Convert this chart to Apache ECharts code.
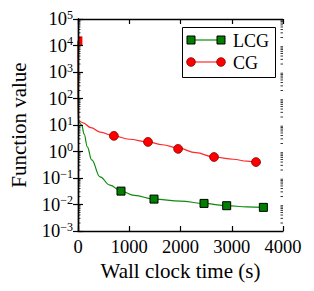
<!DOCTYPE html>
<html><head><meta charset="utf-8">
<script src="https://cdn.jsdelivr.net/npm/echarts@6/dist/echarts.min.js"></script>
<style>html,body{margin:0;padding:0;background:#fff}#c{width:314px;height:291px}</style>
</head><body><div id="c"></div>
<script>
// ---- data ----
const seriesNames = ['LCG', 'CG'];
const xTicks = [0, 1000, 2000, 3000, 4000];
const yTickExponents = [-3, -2, -1, 0, 1, 2, 3, 4, 5];
// smooth curves (wall clock seconds, function value)
const lcgCurve = [[0,15000],[2,14],[72,10],[120,4.5],[182,1.5],[267,0.48],[429,0.11],[624,0.054],[839,0.032],[1100,0.022],[1483,0.016],[2000,0.0135],[2459,0.011],[2901,0.009],[3300,0.0082],[3617,0.0078]];
const cgCurve = [[0,15000],[2,15],[100,12],[250,8],[430,5.4],[700,3.9],[1000,2.9],[1366,2.3],[1650,1.8],[1951,1.36],[2300,0.9],[2654,0.62],[3030,0.51],[3300,0.43],[3473,0.40],[3570,0.38]];
// marker points
const lcgMarkers = [[0,15000],[839,0.032],[1483,0.016],[2459,0.011],[2901,0.009],[3617,0.0078]];
const cgMarkers = [[0,15000],[700,3.9],[1366,2.3],[1951,1.36],[2654,0.62],[3473,0.40]];

// log minor tick positions (axis decoration)
const minorTickValues = [];
for (let e = -3; e < 5; e++) for (let m = 2; m <= 9; m++) minorTickValues.push(m * Math.pow(10, e));

const FONT = 'Liberation Serif';
const chart = echarts.init(document.getElementById('c'), null, {renderer: 'svg'});

const supLabel = v => {
  const e = Math.round(Math.log10(v));
  return '{b|10}{s|' + (e < 0 ? '\u2212' + (-e) : e) + '}';
};
const labelRich = {
  b: {fontFamily: FONT, fontSize: 18.5, color: '#000'},
  s: {fontFamily: FONT, fontSize: 12, color: '#000', padding: [0, 0, 9, 0]}
};

const axisLineStyle = {lineStyle: {color: '#000', width: 1.4}};
const tickStyle = {inside: true, length: 5, lineStyle: {color: '#000', width: 1.2}};

const GREEN = '#007f00', GREEN_LINE = '#0c8a0c', RED = '#ff0000', RED_LINE = '#ff2a2a';

function markerSeries(name, data, kind, z) {
  return {
    name: name, type: 'custom', data: data, clip: true, z: z,
    renderItem: function (params, api) {
      const p = api.coord([api.value(0), api.value(1)]);
      const cs = params.coordSys;
      const half = kind === 'rect' ? 4 : 4.4;
      const box = {x: p[0] - half, y: p[1] - half, width: half * 2, height: half * 2};
      const fill = kind === 'rect' ? GREEN : RED;
      const stroke = kind === 'rect' ? '#000' : '#800000';
      if (box.x < cs.x) {
        const c = echarts.graphic.clipRectByRect(box, cs);
        return c ? {type: 'rect', shape: c, style: {fill: fill}} : null;
      }
      if (kind === 'rect') {
        return {type: 'rect', shape: box, style: {fill: fill, stroke: stroke, lineWidth: 1}};
      }
      return {type: 'circle', shape: {cx: p[0], cy: p[1], r: half},
              style: {fill: fill, stroke: stroke, lineWidth: 0.8}};
    }
  };
}

chart.setOption({
  animation: false,
  grid: {left: 78, right: 31, top: 19, bottom: 60},
  xAxis: [{
    type: 'value', min: xTicks[0], max: xTicks[xTicks.length - 1], interval: 1000, z: 20,
    axisLine: axisLineStyle, axisTick: tickStyle, splitLine: {show: false},
    axisLabel: {fontFamily: FONT, fontSize: 18.5, color: '#000', margin: 6, formatter: v => String(v)},
    name: 'Wall clock time (s)', nameLocation: 'middle', nameGap: 27,
    nameTextStyle: {fontFamily: FONT, fontSize: 21, color: '#000'}
  }, {
    type: 'value', position: 'top', min: xTicks[0], max: xTicks[xTicks.length - 1], interval: 1000, z: 20,
    axisLine: axisLineStyle, axisTick: tickStyle, splitLine: {show: false}, axisLabel: {show: false}
  }],
  yAxis: [{
    type: 'log', logBase: 10, min: Math.pow(10, yTickExponents[0]), max: Math.pow(10, yTickExponents[yTickExponents.length - 1]), interval: 1, z: 20,
    axisLine: axisLineStyle, axisTick: tickStyle, splitLine: {show: false},
    axisLabel: {formatter: supLabel, rich: labelRich, margin: 5},
    name: 'Function value', nameLocation: 'middle', nameGap: 49, nameRotate: 90,
    nameTextStyle: {fontFamily: FONT, fontSize: 21, color: '#000'}
  }, {
    type: 'log', logBase: 10, position: 'right', min: Math.pow(10, yTickExponents[0]), max: Math.pow(10, yTickExponents[yTickExponents.length - 1]), interval: 1, z: 20,
    axisLine: axisLineStyle, axisTick: tickStyle, splitLine: {show: false}, axisLabel: {show: false}
  }],
  series: [
    {name: seriesNames[0], type: 'line', data: lcgCurve, showSymbol: false, smooth: 0.4, smoothMonotone: 'x',
     lineStyle: {color: GREEN_LINE, width: 1.2}, z: 2},
    markerSeries(seriesNames[0], lcgMarkers, 'rect', 3),
    {name: seriesNames[1], type: 'line', data: cgCurve, showSymbol: false, smooth: 0.4, smoothMonotone: 'x',
     lineStyle: {color: RED_LINE, width: 1.2}, z: 4},
    markerSeries(seriesNames[1], cgMarkers, 'circle', 5),
    {type: 'custom', data: minorTickValues.map(v => [0, v]), silent: true, clip: false, z: 6,
     renderItem: function (params, api) {
       const v = api.value(1);
       const l = api.coord([xTicks[0], v]);
       const r = api.coord([xTicks[xTicks.length - 1], v]);
       const st = {stroke: '#000', lineWidth: 0.8};
       return {type: 'group', children: [
         {type: 'line', shape: {x1: l[0], y1: l[1], x2: l[0] + 2.5, y2: l[1]}, style: st},
         {type: 'line', shape: {x1: r[0], y1: r[1], x2: r[0] - 2.5, y2: r[1]}, style: st}
       ]};
     }}
  ],
  graphic: [
    {type: 'rect', shape: {x: 182.5, y: 27.5, width: 93, height: 50}, style: {fill: '#fff', stroke: '#000', lineWidth: 1}, z: 30},
    {type: 'line', shape: {x1: 191, y1: 40, x2: 221, y2: 40}, style: {stroke: GREEN_LINE, lineWidth: 1.2}, z: 31},
    {type: 'rect', shape: {x: 187, y: 36, width: 8, height: 8}, style: {fill: GREEN, stroke: '#000', lineWidth: 1}, z: 32},
    {type: 'rect', shape: {x: 217, y: 36, width: 8, height: 8}, style: {fill: GREEN, stroke: '#000', lineWidth: 1}, z: 32},
    {type: 'text', x: 233, y: 41, style: {text: seriesNames[0], font: '18px "' + FONT + '"', fill: '#000', verticalAlign: 'middle'}, z: 32},
    {type: 'line', shape: {x1: 191, y1: 62, x2: 221, y2: 62}, style: {stroke: RED_LINE, lineWidth: 1.2}, z: 31},
    {type: 'circle', shape: {cx: 191, cy: 62, r: 4.3}, style: {fill: RED, stroke: '#800000', lineWidth: 0.8}, z: 32},
    {type: 'circle', shape: {cx: 221, cy: 62, r: 4.3}, style: {fill: RED, stroke: '#800000', lineWidth: 0.8}, z: 32},
    {type: 'text', x: 233, y: 63, style: {text: seriesNames[1], font: '18px "' + FONT + '"', fill: '#000', verticalAlign: 'middle'}, z: 32}
  ]
});
</script>
</body></html>
